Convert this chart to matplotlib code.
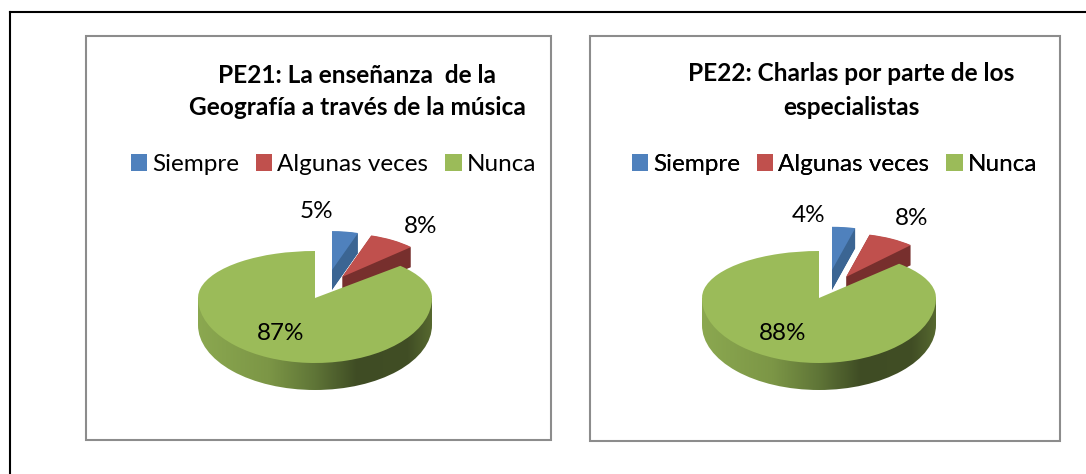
import matplotlib
matplotlib.use("Agg")
import numpy as np
import matplotlib.pyplot as plt
from matplotlib.patches import Rectangle, Ellipse, Patch
from matplotlib.transforms import Affine2D
from matplotlib.colors import LinearSegmentedColormap

W, H = 1086, 474
categories = ["Siempre", "Algunas veces", "Nunca"]
pe21_values = [5, 8, 87]
pe22_values = [4, 8, 88]
pe21_labels = ["5%", "8%", "87%"]
pe22_labels = ["4%", "8%", "88%"]
pe21_title = "PE21: La enseñanza  de la\nGeografía a través de la música"
pe22_title = "PE22: Charlas por parte de los\nespecialistas"

colors = ["#4F81BD", "#C0504D", "#9BBB59"]
side_colors = ["#3B6593", "#772F2D"]
plt.rcParams["font.family"] = ["Lato", "DejaVu Sans"]

fig = plt.figure(figsize=(W / 100, H / 100), dpi=100, facecolor="white")
ax = fig.add_axes([0, 0, 1, 1])
Y = lambda y: H - y


def pie_once(values, visible):
    wedges, _ = ax.pie(values, startangle=90, counterclock=False, colors=colors, radius=1,
                       wedgeprops=dict(linewidth=0))
    for i, w in enumerate(wedges):
        w.set_visible(i == visible)
    return wedges[visible]


def place(w, cx, cy, rx, ry, z, color=None, clip=None):
    w.set_transform(Affine2D().scale(rx, ry).translate(cx, Y(cy)) + ax.transData)
    w.set_zorder(z)
    if color:
        w.set_facecolor(color)
    if clip is not None:
        w.set_clip_on(True)
        w.set_clip_path(clip)
    else:
        w.set_clip_on(False)


def panel(values, labels, title, left, right, top, bottom, ox, title_x, title_ys,
          label_pos, blue_s, blue_dx, handle_anchor_x):
    ax.add_patch(Rectangle((left, Y(bottom)), right - left, bottom - top, fill=False,
                           edgecolor="#8C8C8C", linewidth=1.5, zorder=1))
    for line, ty in zip(title.split("\n"), title_ys):
        ax.text(title_x, Y(ty), line, ha="center", va="center", fontsize=17.6,
                fontweight="bold", color="black", zorder=10)

    rx, up, down, depth = 117, 47, 65, 27
    cx, cy = 315 + ox, 298
    # exploded slices: blue then red, each with a darker extruded copy
    for k, (dx, dy, s, d) in enumerate([(blue_dx, -28, blue_s, 20), (27, -21, 0.81, 20)]):
        for step in np.linspace(d, 0.5, 40):
            place(pie_once(values, k), cx + dx, cy + dy + step, rx * s, 54 * s, 2 + k,
                  side_colors[k])
        place(pie_once(values, k), cx + dx, cy + dy, rx * s, 54 * s, 2.5 + k)

    # green side with horizontal gradient
    cmap = LinearSegmentedColormap.from_list("side", [
        (0, "#8BA850"), (0.3, "#7C9646"), (0.5, "#5F7537"), (0.68, "#3F4C24"),
        (0.9, "#414E25"), (1, "#56682F")])
    grad = np.linspace(0, 1, 256).reshape(1, -1)
    for clip in (Ellipse((cx, Y(cy + depth)), 2 * rx, 2 * down, transform=ax.transData),
                 Rectangle((cx - rx, Y(cy + depth)), 2 * rx, depth, transform=ax.transData)):
        im = ax.imshow(grad, cmap=cmap, aspect="auto", zorder=4, interpolation="bilinear",
                       extent=(cx - rx, cx + rx, Y(cy + depth + down), Y(cy)))
        im.set_clip_path(clip)

    # green top surface, upper and lower half with perspective
    upper = Rectangle((0, Y(cy)), W, cy, transform=ax.transData)
    lower = Rectangle((0, 0), W, Y(cy) + 0.5, transform=ax.transData)
    place(pie_once(values, 2), cx, cy, rx, up, 5, clip=upper)
    place(pie_once(values, 2), cx, cy, rx, down, 5, clip=lower)

    for text, (lx, ly) in zip(labels, label_pos):
        ax.text(lx, Y(ly), text, ha="center", va="center", fontsize=17.5, color="black", zorder=10)

    handles = [Patch(facecolor=c, edgecolor="none", label=n) for c, n in zip(colors, categories)]
    leg = ax.legend(handles=handles, ncols=3, frameon=False, loc="center",
                    bbox_to_anchor=(handle_anchor_x, Y(164.5)), bbox_transform=ax.transData,
                    fontsize=17.5, handlelength=0.66, handleheight=0.66, handletextpad=0.22,
                    columnspacing=0.7, borderpad=0, borderaxespad=0)
    ax.add_artist(leg)


panel(pe21_values, pe21_labels, pe21_title, 86, 551, 36, 440, 0, 357, (75.5, 107.5),
      [(316, 211), (421, 226), (281, 334)], 0.72, 17, 333.5)
panel(pe22_values, pe22_labels, pe22_title, 590, 1060, 36, 441, 504, 851, (73.5, 107.5),
      [(809, 215), (912, 218), (783, 333)], 0.8, 13, 834.5)

# outer frame
ax.plot([10, 10], [Y(12), 0], color="black", linewidth=1.5, zorder=1)
ax.plot([10, W], [Y(12), Y(12)], color="black", linewidth=1.5, zorder=1)

ax.set_aspect("auto")
ax.set_xlim(0, W)
ax.set_ylim(0, H)
ax.axis("off")
fig.savefig("out.png", dpi=100, facecolor="white")
